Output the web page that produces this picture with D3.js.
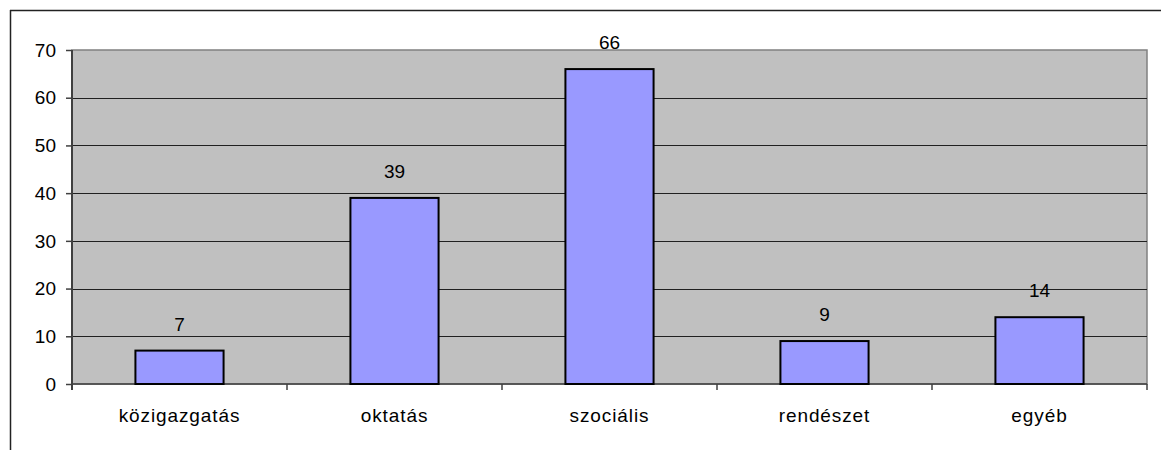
<!DOCTYPE html>
<html>
<head>
<meta charset="utf-8">
<script src="https://cdn.jsdelivr.net/npm/d3@7"></script>
<style>
  body { margin: 0; background: #fff; }
  svg text { font-family: "Liberation Sans", Arial, sans-serif; fill: #000; }
</style>
</head>
<body>
<svg id="chart"></svg>
<script>
// data
var categories = ['közigazgatás', 'oktatás', 'szociális', 'rendészet', 'egyéb'];
var values = [7, 39, 66, 9, 14];
var yTicks = [0, 10, 20, 30, 40, 50, 60, 70];

var width = 1161, height = 450;
var plot = {left: 72, top: 50, right: 1147, bottom: 384};

var svg = d3.select('#chart').attr('width', width).attr('height', height);

// outer chart frame (cropped at right/bottom)
svg.append('line').attr('x1', 10).attr('x2', width).attr('y1', 10.5).attr('y2', 10.5)
   .attr('stroke', '#222').attr('stroke-width', 1.5);
svg.append('line').attr('x1', 10.5).attr('x2', 10.5).attr('y1', 10).attr('y2', height)
   .attr('stroke', '#222').attr('stroke-width', 1.5);

var x = d3.scaleBand()
    .domain(categories)
    .range([plot.left, plot.right])
    .paddingInner(0.59)
    .paddingOuter(0.295);

var y = d3.scaleLinear()
    .domain([0, 70])
    .range([plot.bottom, plot.top]);

// grey plot area
svg.append('rect')
   .attr('x', plot.left).attr('y', plot.top)
   .attr('width', plot.right - plot.left).attr('height', plot.bottom - plot.top)
   .attr('fill', '#c0c0c0')
   .attr('stroke', '#808080').attr('stroke-width', 1.5);

// gridlines
svg.append('g').selectAll('line')
   .data(yTicks.filter(d => d > 0 && d < 70))
   .enter().append('line')
   .attr('x1', plot.left).attr('x2', plot.right)
   .attr('y1', d => Math.round(y(d)) + 0.5).attr('y2', d => Math.round(y(d)) + 0.5)
   .attr('stroke', '#202020').attr('stroke-width', 1);

// y axis
var yAxis = svg.append('g')
   .attr('transform', 'translate(' + plot.left + ',0)')
   .call(d3.axisLeft(y).tickValues(yTicks).tickSize(6).tickPadding(10));
yAxis.select('.domain').attr('stroke', '#404040').attr('stroke-width', 2)
   .attr('d', 'M0,' + plot.top + 'V' + (plot.bottom + 6));
yAxis.selectAll('.tick line').attr('stroke', '#404040').attr('stroke-width', 1.5);
yAxis.selectAll('.tick text').style('font-size', '19px').attr('dy', '0.33em');

// x axis: boundary ticks between categories
var bounds = d3.range(categories.length + 1).map(i => plot.left + i * x.step());
var xAxis = svg.append('g');
xAxis.append('line')
   .attr('x1', plot.left).attr('x2', plot.right)
   .attr('y1', plot.bottom).attr('y2', plot.bottom)
   .attr('stroke', '#404040').attr('stroke-width', 1.5);
xAxis.selectAll('line.btick')
   .data(bounds).enter().append('line')
   .attr('class', 'btick')
   .attr('x1', d => d).attr('x2', d => d)
   .attr('y1', plot.bottom).attr('y2', plot.bottom + 6)
   .attr('stroke', '#404040').attr('stroke-width', 1.5);
xAxis.selectAll('text')
   .data(categories).enter().append('text')
   .attr('x', d => x(d) + x.bandwidth() / 2)
   .attr('y', 422)
   .attr('text-anchor', 'middle')
   .style('font-size', '19px')
   .style('letter-spacing', '0.9px')
   .text(d => d);

// bars
svg.append('g').selectAll('rect')
   .data(values).enter().append('rect')
   .attr('x', (d, i) => x(categories[i]))
   .attr('y', d => y(d))
   .attr('width', x.bandwidth())
   .attr('height', d => y(0) - y(d))
   .attr('fill', '#9999ff')
   .attr('stroke', '#000').attr('stroke-width', 2);

// value labels
svg.append('g').selectAll('text')
   .data(values).enter().append('text')
   .attr('x', (d, i) => x(categories[i]) + x.bandwidth() / 2)
   .attr('y', d => y(d) - 20)
   .attr('text-anchor', 'middle')
   .style('font-size', '19px')
   .text(d => d);
</script>
</body>
</html>
